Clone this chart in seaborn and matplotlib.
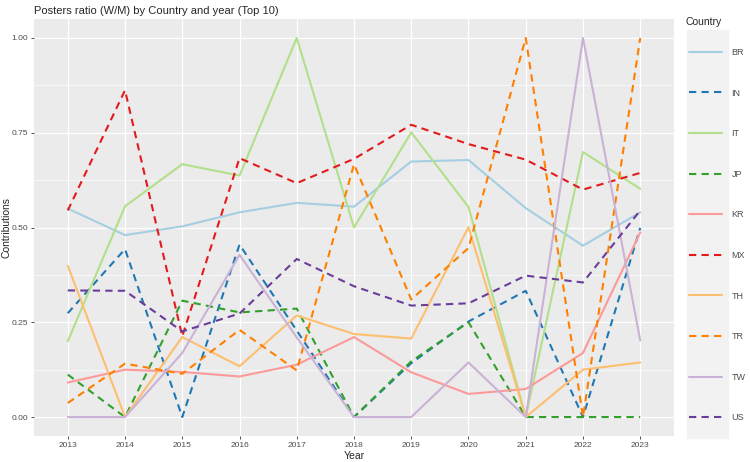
import numpy as np
import pandas as pd
import matplotlib.pyplot as plt
import matplotlib.patches as mpatches
import seaborn as sns

years = list(range(2013, 2024))
countries = ['BR', 'IN', 'IT', 'JP', 'KR', 'MX', 'TH', 'TR', 'TW', 'US']

br = [0.550, 0.480, 0.503, 0.540, 0.565, 0.555, 0.674, 0.678, 0.551, 0.452, 0.540]
in_ = [0.274, 0.443, 0.000, 0.455, 0.228, 0.000, 0.142, 0.252, 0.333, 0.000, 0.499]
it = [0.200, 0.556, 0.667, 0.637, 1.000, 0.500, 0.751, 0.554, 0.000, 0.699, 0.602]
jp = [0.112, 0.000, 0.307, 0.276, 0.286, 0.000, 0.147, 0.250, 0.000, 0.000, 0.000]
kr = [0.091, 0.125, 0.119, 0.107, 0.138, 0.211, 0.118, 0.061, 0.074, 0.169, 0.487]
mx = [0.545, 0.862, 0.213, 0.683, 0.617, 0.681, 0.771, 0.720, 0.679, 0.600, 0.644]
th = [0.399, 0.000, 0.211, 0.134, 0.268, 0.219, 0.207, 0.501, 0.000, 0.125, 0.144]
tr = [0.037, 0.141, 0.114, 0.230, 0.123, 0.667, 0.310, 0.446, 1.000, 0.000, 1.000]
tw = [0.000, 0.000, 0.169, 0.428, 0.210, 0.000, 0.000, 0.144, 0.000, 1.000, 0.202]
us = [0.334, 0.333, 0.226, 0.273, 0.417, 0.345, 0.294, 0.300, 0.373, 0.355, 0.545]

series = [br, in_, it, jp, kr, mx, th, tr, tw, us]
df = pd.DataFrame({
    'Year': years * len(countries),
    'Contributions': [v for s in series for v in s],
    'Country': [c for c in countries for _ in years],
})

sns.set_theme(style='darkgrid')
plt.rcParams['font.family'] = ['Liberation Sans', 'DejaVu Sans']

fig = plt.figure(figsize=(7.5, 4.62), dpi=100)
ax = fig.add_axes([34/750, 1 - 436/462, 640/750, 417/462])
ax.set_facecolor('#EBEBEB')

dash = (3.5, 2.5)
sns.lineplot(data=df, x='Year', y='Contributions', hue='Country', style='Country',
             palette='Paired', dashes=['', dash] * 5, linewidth=1.5, ax=ax)

ax.set_xlim(2012.41, 2023.59)
ax.set_ylim(-0.05, 1.05)
ax.set_xticks(years)
ax.set_yticks([0, 0.25, 0.5, 0.75, 1.0])
ax.set_yticklabels(['0.00', '0.25', '0.50', '0.75', '1.00'])
ax.set_yticks([0.125, 0.375, 0.625, 0.875], minor=True)
ax.grid(which='major', color='white', linewidth=0.9)
ax.grid(which='minor', axis='y', color='white', linewidth=0.45)
ax.set_axisbelow(True)
for s in ax.spines.values():
    s.set_visible(False)
ax.tick_params(axis='both', which='major', labelsize=6, labelcolor='#4D4D4D',
               color='#333333', length=2.5, width=0.6, pad=2, bottom=True, left=True)
ax.tick_params(axis='both', which='minor', length=0)
ax.set_xlabel('Year', fontsize=7.5, labelpad=1)
ax.set_ylabel('')
fig.text(7/750, 1 - 227/462, 'Contributions', fontsize=7.5, rotation=90,
         va='center', ha='center')

fig.text(34/750, 1 - 11/462, 'Posters ratio (W/M) by Country and year (Top 10)',
         fontsize=8, va='center', ha='left')

# legend
handles, labels = ax.get_legend_handles_labels()
ax.get_legend().remove()
fig.patches.append(mpatches.Rectangle((687/750, 1 - 438/462), 41/750, 408/462,
                                      transform=fig.transFigure, color='#F2F2F2', zorder=0))
fig.text(686/750, 1 - 22/462, 'Country', fontsize=7.5, va='center', ha='left')
leg = fig.legend(handles, labels, loc='upper left', bbox_to_anchor=(689/750, 1 - 48/462),
                 frameon=False, fontsize=6.5, handlelength=3.6, handletextpad=1.1,
                 labelspacing=3.5, borderaxespad=0, borderpad=0)
for t in leg.get_texts():
    t.set_color('#4D4D4D')

fig.savefig('out.png', dpi=100)
